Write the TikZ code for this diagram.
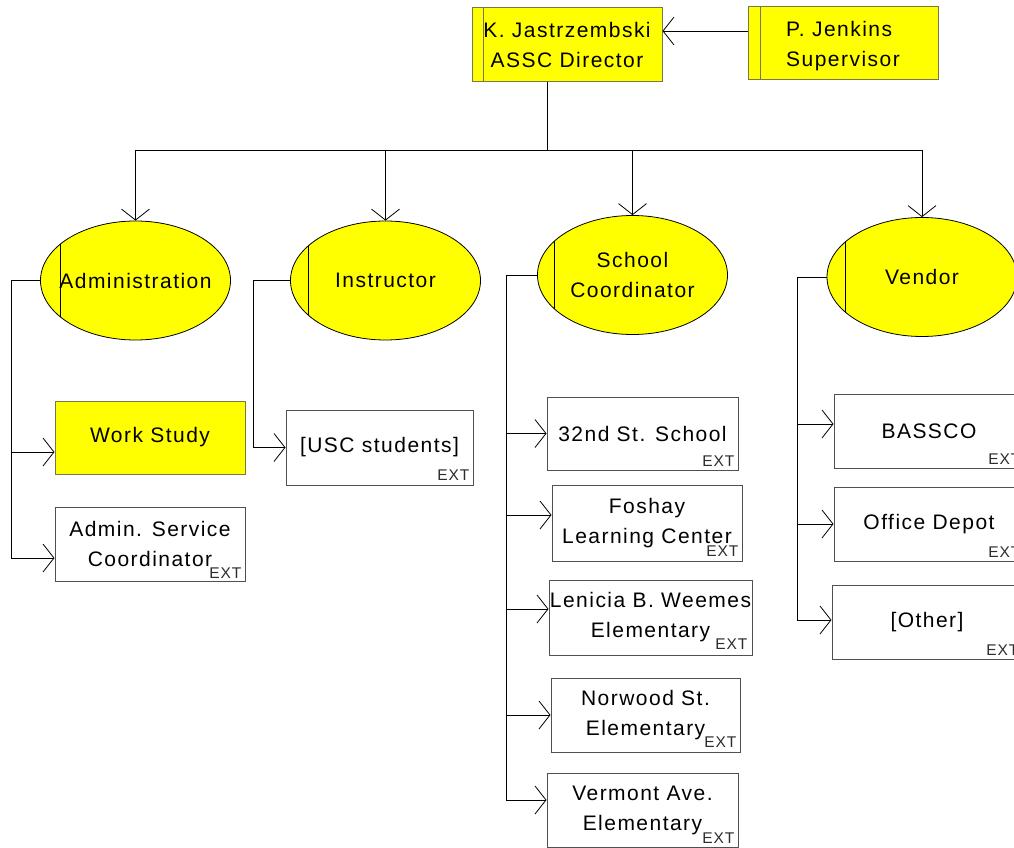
\documentclass[tikz,border=0pt]{standalone}
\usepackage{fontspec}
\setmainfont{Liberation Sans}[LetterSpace=7]
\newfontfamily\extfont{Liberation Sans}[LetterSpace=6]
\usetikzlibrary{arrows.meta,shapes.geometric}
\definecolor{ybord}{RGB}{120,120,70}
\definecolor{wbord}{RGB}{80,80,80}
\definecolor{extgray}{RGB}{45,45,45}
\definecolor{yel}{RGB}{255,255,0}
\begin{document}
\begin{tikzpicture}[x=1pt,y=-1pt,
 every node/.style={font=\fontsize{21}{30}\selectfont, inner sep=0pt},
 conn/.style={draw=black, line width=0.8pt},
 arr/.style={conn, -{Straight Barb[length=11pt,width=28pt,line width=0.8pt]}},
 ybox/.style={draw=ybord, fill=yel, line width=1pt, minimum width=190pt, minimum height=74pt, align=center, inner xsep=-20pt},
 wbox/.style={draw=wbord, fill=white, line width=1pt, minimum width=190pt, minimum height=74pt, align=center, inner xsep=-20pt},
 oval/.style={ellipse, draw=black, fill=yel, line width=0.8pt, minimum width=190pt, minimum height=119pt, align=center, inner xsep=-40pt},
 bar/.style={path picture={\draw[line width=0.8pt] ([xshift=#1]path picture bounding box.north west) -- ([xshift=#1]path picture bounding box.south west);}},
 ext/.style={font=\extfont\fontsize{15.5}{15.5}\selectfont, text=extgray, anchor=south east, inner sep=0pt},
]
\useasboundingbox (0,0) rectangle (1014,848);

% top
\node[ybox, bar=11pt] (dir) at (567,45) {K. Jastrzembski\\ASSC Director};
\node[ybox, bar=12pt, minimum height=73pt, align=left, text depth=0pt] (jen) at (843,43.5) {P. Jenkins\\Supervisor};
\draw[arr] ([yshift=12.5pt]jen.west) -- ([yshift=14pt]dir.east);

% ovals
\node[oval, bar=20pt] (adm) at (135.5,280.5) {Administration};
\node[oval, bar=18pt] (ins) at (385.5,280.5) {Instructor};
\node[oval, bar=17pt] (sch) at (632.5,275) {School\\Coordinator};
\node[oval, bar=18pt] (ven) at (922,277) {Vendor};

\coordinate (hub) at (547,150);
\draw[conn] (dir.south -| hub) -- (hub);
\draw[arr] (hub) -| (adm.north);
\draw[arr] (hub) -| (ins.north);
\draw[arr] (hub) -| (sch.north);
\draw[arr] (hub) -| (ven.north);

% Administration children
\node[ybox, minimum height=73pt] (ws) at (150,437.5) {Work Study};
\node[wbox] (asc) at (150,544) {Admin. Service\\Coordinator};
\node[ext] (asc-ext) at ([xshift=-4pt,yshift=3pt]asc.south east) {EXT};
\coordinate (admbus) at (11,280.5);
\draw[conn] (adm.west) -- (admbus);
\draw[arr] (admbus) |- ([yshift=-14.5pt]ws.west);
\draw[arr] (admbus) |- ([yshift=-14pt]asc.west);

% Instructor child
\node[wbox, minimum width=187pt, minimum height=75pt] (usc) at (379.5,447.5) {[USC students]};
\node[ext] (usc-ext) at ([xshift=-4pt,yshift=5pt]usc.south east) {EXT};
\coordinate (insbus) at (253,280.5);
\draw[conn] (ins.west) -- (insbus);
\draw[arr] (insbus) |- (usc.west);

% School children
\node[wbox, minimum width=191pt, minimum height=73pt] (s32) at (642.5,433.5) {32nd St. School};
\node[wbox, minimum height=76pt] (fos) at (647,523) {Foshay\\Learning Center};
\node[wbox, minimum width=203pt, minimum height=75pt] (len) at (650.5,617.5) {Lenicia B. Weemes\\Elementary};
\node[wbox, minimum width=189pt] (nor) at (645.5,715) {Norwood St.\\Elementary};
\node[wbox, minimum width=191pt] (ver) at (642.5,810) {Vermont Ave.\\Elementary};
\node[ext] (s32-ext) at ([xshift=-4pt,yshift=4pt]s32.south east) {EXT};
\node[ext] (fos-ext) at ([xshift=-4pt,yshift=5pt]fos.south east) {EXT};
\node[ext] (len-ext) at ([xshift=-5pt,yshift=6pt]len.south east) {EXT};
\node[ext] (nor-ext) at ([xshift=-4pt,yshift=5pt]nor.south east) {EXT};
\node[ext] (ver-ext) at ([xshift=-4pt,yshift=4pt]ver.south east) {EXT};
\coordinate (schbus) at (506,275);
\draw[conn] (sch.west) -- (schbus);
\draw[arr] (schbus) |- (s32.west);
\draw[arr] (schbus) |- ([yshift=8pt]fos.west);
\draw[arr] (schbus) |- ([yshift=8.5pt]len.west);
\draw[arr] (schbus) |- (nor.west);
\draw[arr] (schbus) |- ([yshift=10pt]ver.west);

% Vendor children
\node[wbox] (bas) at (929,431) {BASSCO};
\node[wbox] (off) at (929,524) {Office Depot};
\node[wbox] (oth) at (927,622) {[Other]};
\node[ext] (bas-ext) at ([xshift=-4pt,yshift=4pt]bas.south east) {EXT};
\node[ext] (off-ext) at ([xshift=-4pt,yshift=4pt]off.south east) {EXT};
\node[ext] (oth-ext) at ([xshift=-4pt,yshift=4pt]oth.south east) {EXT};
\coordinate (venbus) at (797,277);
\draw[conn] (ven.west) -- (venbus);
\draw[arr] (venbus) |- ([yshift=7pt]bas.west);
\draw[arr] (venbus) |- (off.west);
\draw[arr] (venbus) |- ([yshift=2pt]oth.west);
\end{tikzpicture}
\end{document}
